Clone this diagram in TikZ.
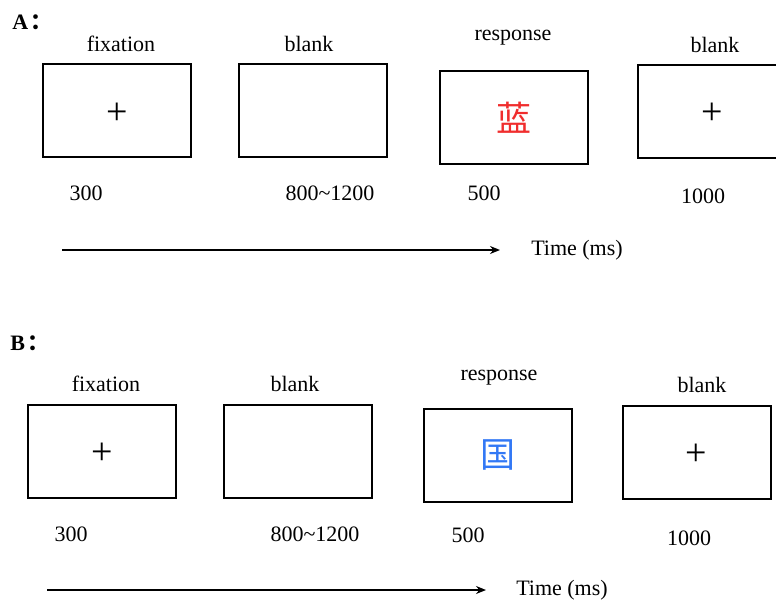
\documentclass[tikz,border=0pt]{standalone}
\usepackage{fontspec}
\setmainfont{Liberation Serif}
\newfontfamily\cjk{Noto Sans CJK SC}
\usetikzlibrary{positioning,arrows.meta}
\definecolor{wordred}{RGB}{240,45,45}
\definecolor{wordblue}{RGB}{50,120,245}
\tikzset{
  screen/.style={draw, line width=1pt, minimum width=74pt, minimum height=46.5pt, inner sep=0pt},
  lbl/.style={font=\fontsize{11}{13}\selectfont, inner sep=0pt},
  fix/.style={font=\fontsize{19}{19}\selectfont, inner sep=0pt, yshift=-1.5pt},
  word/.style={font=\cjk\fontsize{17.5}{17.5}\selectfont, inner sep=0pt},
  timeline/.style={line width=0.75pt, -{Stealth[length=5pt,width=4pt]}}
}

\begin{document}
\begin{tikzpicture}[x=0.5pt,y=-0.5pt]
    \useasboundingbox (0,0) rectangle (776,600);

    % Panel A
    \node[lbl, anchor=west] (panA) at (12,22) {\textbf{A}\kern1pt{\cjk\bfseries ：}};
    \node[screen] (fixA) at (117,110.5) {};
    \node[screen] (blankA) at (313,110.5) {};
    \node[screen] (respA) at (514,117.5) {};
    \node[screen] (endA) at (712,111) {};
    \node[fix] (crossA) at (fixA) {+};
    \node[word, text=wordred] (wordA) at (respA) {蓝};
    \node[fix] (crossAA) at (endA) {+};

    \node[lbl] at (121,44) {fixation};
    \node[lbl] at (309,44) {blank};
    \node[lbl] at (513,38) {response};
    \node[lbl] at (715,45) {blank};

    \node[lbl] at (86,193) {300};
    \node[lbl] at (330,193) {800\textasciitilde 1200};
    \node[lbl] at (484,193) {500};
    \node[lbl] at (703,196) {1000};

    % Time axis A
    \coordinate (tA0) at (62,250);
    \coordinate (tA1) at (500,250);
    \draw[timeline] (tA0) -- (tA1);
    \node[lbl] (timeA) at (577,250) {Time (ms)};

    % Panel B
    \node[lbl, anchor=west] (panB) at (10,343) {\textbf{B}\kern1pt{\cjk\bfseries ：}};
    \node[screen] (fixB) at (102,451) {};
    \node[screen] (blankB) at (298,451) {};
    \node[screen] (respB) at (497.5,455) {};
    \node[screen] (endB) at (696.5,452) {};
    \node[fix] (crossB) at (fixB) {+};
    \node[word, text=wordblue] (wordB) at (respB) {国};
    \node[fix] (crossBB) at (endB) {+};

    \node[lbl] at (106,384) {fixation};
    \node[lbl] at (295,384) {blank};
    \node[lbl] at (499,378) {response};
    \node[lbl] at (702,385) {blank};

    \node[lbl] at (71,534) {300};
    \node[lbl] at (315,534) {800\textasciitilde 1200};
    \node[lbl] at (468,535) {500};
    \node[lbl] at (689,538) {1000};

    % Time axis B
    \coordinate (tB0) at (47,590);
    \coordinate (tB1) at (486,590);
    \draw[timeline] (tB0) -- (tB1);
    \node[lbl] (timeB) at (562,590) {Time (ms)};
\end{tikzpicture}
\end{document}
